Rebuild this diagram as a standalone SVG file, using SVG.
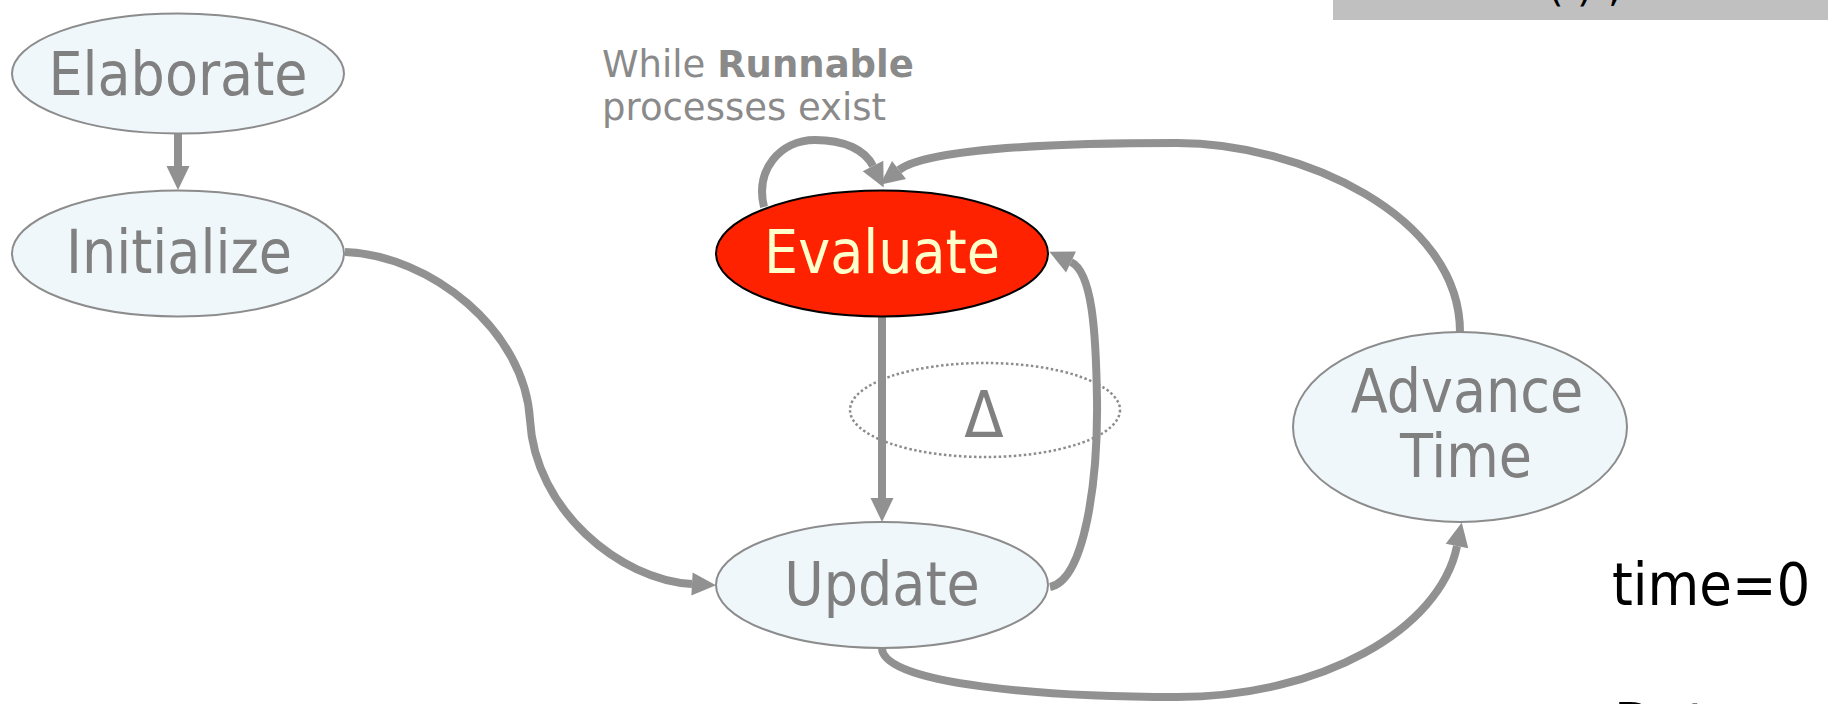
<svg xmlns="http://www.w3.org/2000/svg" width="1828" height="704" viewBox="0 0 1828 704">
<style>
.node ellipse{fill:#F0F7FB;stroke:#8C8C8C;stroke-width:2}
.lbl{font-family:"DejaVu Sans","Liberation Sans",sans-serif;font-stretch:condensed;font-size:60px;fill:#808080;text-anchor:middle}
.conn path{fill:none;stroke:#919191;stroke-width:8}
.note{font-family:"DejaVu Sans","Liberation Sans",sans-serif;font-size:37px;fill:#8A8A8A}
.blk{font-family:"DejaVu Sans","Liberation Sans",sans-serif;font-stretch:condensed;font-size:59px;fill:#000}
</style>
<defs>
<marker id="ah" markerUnits="userSpaceOnUse" markerWidth="24" markerHeight="23" refX="0" refY="11.5" orient="auto" overflow="visible">
<path d="M0,0 L24,11.5 L0,23 Z" fill="#919191"/>
</marker>
</defs>
<rect x="0" y="0" width="1828" height="704" fill="#FFFFFF"/>
<g id="topbar">
<rect x="1333" y="0" width="495" height="20" fill="#C0C0C0"/>
<text x="1548" y="1" font-family="DejaVu Sans, sans-serif" font-size="40" fill="#000">(<tspan x="1577">)</tspan><tspan x="1608">;</tspan></text>
</g>
<g id="delta">
<ellipse cx="985" cy="410" rx="135" ry="47" fill="none" stroke="#8C8C8C" stroke-width="2.5" stroke-dasharray="2.5 2.5"/>
<text x="984" y="437" class="lbl" style="font-size:64px">Δ</text>
</g>
<g id="annotation">
<text x="602" y="77" class="note">While <tspan font-weight="bold">Runnable</tspan></text>
<text x="602" y="120" class="note">processes exist</text>
</g>
<g id="connectors" class="conn">
<path d="M178,133 L178,166" marker-end="url(#ah)"/>
<path d="M345,252 C430,255 525,330 530,420 C535,510 620,580 692,584" marker-end="url(#ah)"/>
<path d="M882,317 L882,498" marker-end="url(#ah)"/>
<path d="M1050,587 C1085,580 1098,480 1097,400 C1096,330 1092,272 1071,262" marker-end="url(#ah)"/>
<path d="M882,648 C882,685 1050,697 1177,697 C1320,697 1440,630 1457,546" marker-end="url(#ah)"/>
<path d="M1460,332 C1460,215 1300,143 1177,143 C1040,143 925,150 899,170" marker-end="url(#ah)"/>
<path d="M764,207 C755,170 780,140 815,140 C845,140 865,150 873,166" marker-end="url(#ah)"/>
</g>
<g id="elaborate" class="node">
<ellipse cx="178" cy="73.5" rx="166" ry="60"/>
<text x="178" y="95" class="lbl">Elaborate</text>
</g>
<g id="initialize" class="node">
<ellipse cx="178" cy="253.5" rx="166" ry="63"/>
<text x="179" y="273" class="lbl">Initialize</text>
</g>
<g id="evaluate" class="node">
<ellipse cx="882" cy="253.5" rx="166" ry="63" style="fill:#FF2200;stroke:#000000;stroke-width:2"/>
<text x="882" y="273" class="lbl" style="fill:#FFFFCC">Evaluate</text>
</g>
<g id="update" class="node">
<ellipse cx="882" cy="585" rx="166" ry="63"/>
<text x="882" y="605" class="lbl">Update</text>
</g>
<g id="advance" class="node">
<ellipse cx="1460" cy="427" rx="167" ry="95"/>
<text x="1467" y="412" class="lbl">Advance</text>
<text x="1466" y="477" class="lbl">Time</text>
</g>
<g id="labels">
<text x="1612" y="605" class="blk">time=0</text>
<text x="1614" y="745" class="blk">Dat</text>
</g>
</svg>
